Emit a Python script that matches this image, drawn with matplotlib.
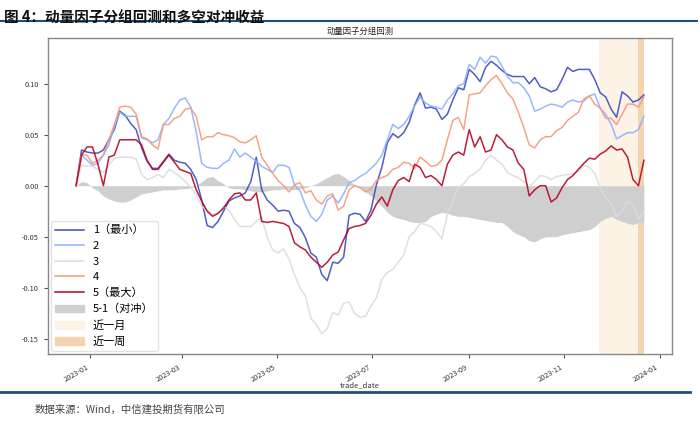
import matplotlib
matplotlib.use("Agg")
import matplotlib.pyplot as plt
import matplotlib.dates as mdates
import matplotlib.ticker as mticker
import numpy as np
import pandas as pd
from matplotlib.patches import Patch
from matplotlib.lines import Line2D

plt.rcParams['font.family'] = ['Noto Sans CJK SC', 'DejaVu Sans']
plt.rcParams['axes.unicode_minus'] = False

# weekly (Friday) values and the mid-week values in between
g1_week = [0, 0.033, 0.032, 0.045, 0.073, 0.061, 0.037, 0.017, 0.024, 0.025, 0.022, 0.006,
           -0.039, -0.035, -0.015, -0.01, 0.004, -0.004, -0.019, -0.024, -0.037, -0.051, -0.07,
           -0.093, -0.076, -0.029, -0.028, -0.024, 0.018, 0.051, 0.052, 0.079, 0.076, 0.075,
           0.07, 0.096, 0.114, 0.102, 0.122, 0.113, 0.107, 0.107, 0.106, 0.095, 0.094, 0.116,
           0.114, 0.114, 0.091, 0.075, 0.092, 0.082, 0.089]
g1_mid = [0.035, 0.032, 0.035, 0.055, 0.069, 0.055, 0.024, 0.017, 0.031, 0.023, 0.016, -0.014,
          -0.041, -0.025, -0.012, -0.007, 0.028, -0.014, -0.025, -0.025, -0.041, -0.066, -0.087,
          -0.075, -0.07, -0.027, -0.035, 0.001, 0.042, 0.047, 0.062, 0.091, 0.077, 0.065, 0.084,
          0.094, 0.109, 0.116, 0.118, 0.109, 0.107, 0.10, 0.097, 0.092, 0.104, 0.112, 0.114,
          0.104, 0.087, 0.067, 0.088, 0.084]
g2_week = [0, 0.025, 0.022, 0.04, 0.072, 0.068, 0.047, 0.042, 0.06, 0.076, 0.086, 0.053,
           0.018, 0.017, 0.025, 0.028, 0.028, 0.019, 0.013, 0.02, 0.001, -0.019, -0.035,
           -0.014, -0.017, 0.003, 0.009, 0.017, 0.03, 0.06, 0.06, 0.078, 0.081, 0.077,
           0.084, 0.098, 0.119, 0.126, 0.127, 0.117, 0.101, 0.096, 0.073, 0.078, 0.079, 0.082,
           0.082, 0.088, 0.076, 0.06, 0.049, 0.052, 0.068]
g2_mid = [0.03, 0.02, 0.03, 0.058, 0.068, 0.068, 0.045, 0.045, 0.066, 0.084, 0.077, 0.022,
          0.017, 0.022, 0.036, 0.032, 0.024, 0.016, 0.02, 0.018, -0.005, -0.03, -0.028, -0.01,
          -0.008, 0.005, 0.012, 0.022, 0.045, 0.056, 0.068, 0.087, 0.078, 0.075, 0.09, 0.1,
          0.114, 0.12, 0.126, 0.107, 0.101, 0.088, 0.075, 0.080, 0.077, 0.084, 0.083, 0.09,
          0.07, 0.046, 0.052, 0.055]
g3_week = [0, 0.019, 0.016, 0.02, 0.028, 0.028, 0.011, 0.008, 0.008, 0.013, 0.004, -0.009,
           -0.024, -0.028, -0.024, -0.04, -0.04, -0.031, -0.063, -0.062, -0.087, -0.108, -0.136,
           -0.14, -0.127, -0.114, -0.129, -0.118, -0.092, -0.082, -0.068, -0.045, -0.038, -0.045,
           -0.028, -0.002, 0.009, 0.016, 0.03, 0.021, 0.01, 0.004, 0.004, 0.009, 0.009, 0.011,
           0.014, 0.018, -0.002, -0.017, -0.025, -0.019, -0.025]
g3_mid = [0.02, 0.019, 0.013, 0.027, 0.028, 0.026, 0.006, 0.011, 0.016, 0.009, -0.002, -0.02,
          -0.028, -0.02, -0.033, -0.04, -0.035, -0.05, -0.066, -0.072, -0.1, -0.13, -0.145,
          -0.124, -0.115, -0.125, -0.128, -0.11, -0.085, -0.075, -0.05, -0.037, -0.04, -0.052,
          -0.015, 0.002, 0.012, 0.025, 0.025, 0.013, 0.008, -0.001, 0.01, 0.006, 0.01, 0.012,
          0.02, 0.012, -0.012, -0.03, -0.015, -0.033]
g4_week = [0, 0.03, 0.025, 0.045, 0.077, 0.077, 0.048, 0.04, 0.06, 0.066, 0.075, 0.068,
           0.048, 0.052, 0.049, 0.043, 0.045, 0.028, 0.012, 0.0, 0.001, -0.007, -0.014,
           -0.01, -0.024, -0.004, -0.002, -0.003, 0.008, 0.016, 0.023, 0.017, 0.024, 0.02,
           0.045, 0.067, 0.089, 0.091, 0.104, 0.1, 0.085, 0.057, 0.037, 0.048, 0.054, 0.064,
           0.072, 0.088, 0.076, 0.066, 0.07, 0.08, 0.087]
g4_mid = [0.03, 0.022, 0.03, 0.06, 0.078, 0.07, 0.046, 0.036, 0.06, 0.068, 0.076, 0.045,
          0.048, 0.05, 0.047, 0.042, 0.049, 0.02, 0.005, -0.006, 0.003, -0.005, -0.018, -0.008,
          -0.02, 0.0, -0.006, 0.005, 0.01, 0.018, 0.022, 0.028, 0.019, 0.025, 0.064, 0.055,
          0.09, 0.098, 0.108, 0.091, 0.072, 0.04, 0.045, 0.048, 0.057, 0.068, 0.085, 0.08,
          0.066, 0.06, 0.08, 0.077]
g5_week = [0, 0.038, 0.021, 0.028, 0.045, 0.045, 0.04, 0.016, 0.023, 0.023, 0.014, -0.004,
           -0.025, -0.027, -0.014, -0.007, -0.014, -0.035, -0.035, -0.037, -0.056, -0.063, -0.075,
           -0.075, -0.065, -0.042, -0.039, -0.029, -0.011, -0.004, 0.008, 0.021, 0.008, 0.006,
           0.021, 0.033, 0.055, 0.048, 0.035, 0.045, 0.035, 0.016, -0.004, 0.0, -0.012, 0.006,
           0.016, 0.027, 0.031, 0.039, 0.036, 0.006, 0.025]
g5_mid = [0.03, 0.038, 0.0, 0.03, 0.045, 0.045, 0.025, 0.016, 0.03, 0.016, 0.012, -0.015,
          -0.03, -0.022, -0.008, -0.014, -0.007, -0.036, -0.036, -0.04, -0.06, -0.07, -0.08,
          -0.068, -0.053, -0.04, -0.037, -0.018, -0.02, 0.005, 0.004, 0.018, 0.01, 0.0, 0.03,
          0.03, 0.038, 0.033, 0.05, 0.038, 0.022, -0.01, 0.0, -0.016, -0.002, 0.01, 0.022,
          0.026, 0.034, 0.035, 0.028, 0.0]
hedge_week = [0, 0.003, -0.005, -0.013, -0.016, -0.014, -0.008, -0.006, -0.004, -0.004, -0.003, 0.0,
              0.008, 0.005, -0.002, -0.003, -0.005, -0.006, -0.004, -0.003, -0.004, -0.002, 0.002,
              0.008, 0.012, 0.005, -0.002, -0.01, -0.02, -0.03, -0.033, -0.036, -0.035, -0.028,
              -0.027, -0.03, -0.031, -0.033, -0.035, -0.036, -0.045, -0.05, -0.055, -0.05, -0.05,
              -0.047, -0.045, -0.043, -0.035, -0.03, -0.035, -0.038, -0.035]
hedge_mid = [0.004, -0.002, -0.01, -0.015, -0.016, -0.011, -0.007, -0.005, -0.004, -0.003,
             -0.002, 0.004, 0.009, 0.002, -0.003, -0.004, -0.006, -0.005, -0.004, -0.003,
             -0.003, 0.0, 0.005, 0.011, 0.009, 0.001, -0.006, -0.015, -0.026, -0.032,
             -0.035, -0.036, -0.03, -0.026, -0.029, -0.03, -0.032, -0.034, -0.036, -0.04,
             -0.048, -0.054, -0.052, -0.05, -0.048, -0.046, -0.044, -0.04, -0.032, -0.033,
             -0.037, -0.036]

labels = ["1（最小）", "2", "3", "4", "5（最大）"]
extra_labels = ["5-1（对冲）", "近一月", "近一周"]
start_date = "2022-12-23"
month_start, week_start, end_date = "2023-11-23", "2023-12-18", "2023-12-22"


def merge(week, mid):
    out = []
    for i, w in enumerate(week):
        out.append(w)
        if i < len(mid):
            out.append(mid[i])
    return out


series = [merge(g1_week, g1_mid), merge(g2_week, g2_mid), merge(g3_week, g3_mid),
          merge(g4_week, g4_mid), merge(g5_week, g5_mid)]
hedge = merge(hedge_week, hedge_mid)
dates = pd.date_range(start_date, periods=len(hedge), freq="84h")

colors = ["#3b4cc0", "#8db0fe", "#dddcdc", "#f49a7b", "#b40426"]

fig = plt.figure(figsize=(7.0, 4.21), dpi=100)
ax = fig.add_axes([0.0686, 0.159, 0.8914, 0.7513])

ax.axvspan(pd.Timestamp(month_start), pd.Timestamp(end_date), color="#fdf2e6", lw=0, zorder=0)
ax.axvspan(pd.Timestamp(week_start), pd.Timestamp(end_date), color="#f5d3b0", lw=0, zorder=0)
ax.fill_between(dates, 0, hedge, color="#cfcfcf", lw=0, zorder=1)

for vals, c in zip(series, colors):
    ax.plot(dates, vals, color=c, lw=1.1, zorder=2, alpha=0.9)

ax.set_xlim(pd.Timestamp("2022-12-05"), pd.Timestamp("2024-01-09"))
ax.set_ylim(-0.165, 0.145)
ax.set_yticks([-0.15, -0.10, -0.05, 0.0, 0.05, 0.10])
ax.yaxis.set_major_formatter(mticker.FormatStrFormatter('%.2f'))
ax.xaxis.set_major_locator(mdates.MonthLocator(bymonth=[1, 3, 5, 7, 9, 11]))
ax.xaxis.set_major_formatter(mdates.DateFormatter("%Y-%m"))
ax.tick_params(axis='both', labelsize=5.3, length=3, color="#555555", labelcolor="#333333")
for lab in ax.get_xticklabels():
    lab.set_rotation(30)
    lab.set_ha("right")
for s in ax.spines.values():
    s.set_color("#888888")
    s.set_linewidth(1.0)
ax.set_xlabel("trade_date", fontsize=5.5, color="#333333", labelpad=-1.5)
ax.set_title("动量因子分组回测", fontsize=6, color="#222222", pad=3)

handles = [Line2D([], [], color=c, lw=1.1) for c in colors]
handles += [Patch(color="#cfcfcf"), Patch(color="#fdf2e6"), Patch(color="#f5d3b0")]
leg = ax.legend(handles, labels + extra_labels, loc="lower left", fontsize=8, frameon=True,
                borderaxespad=0.3, labelspacing=0.5, handlelength=2.6, handletextpad=0.8,
                borderpad=0.35, fancybox=True)
leg.get_frame().set_edgecolor("#dddddd")

fig.text(0.005, 0.978, "图 4：动量因子分组回测和多空对冲收益", fontsize=10.5, fontweight="bold",
         va="top", ha="left", color="#111111")
fig.add_artist(Line2D([0.0, 0.995], [0.95, 0.95], color="#1f4e79", lw=1.5, transform=fig.transFigure))
fig.add_artist(Line2D([0.0, 0.985], [0.069, 0.069], color="#1f4e79", lw=2.0, transform=fig.transFigure))
fig.text(0.05, 0.028, "数据来源：Wind，中信建投期货有限公司", fontsize=7.5, style="italic",
         color="#444444", va="center", ha="left")

fig.savefig("out.png", dpi=100)
